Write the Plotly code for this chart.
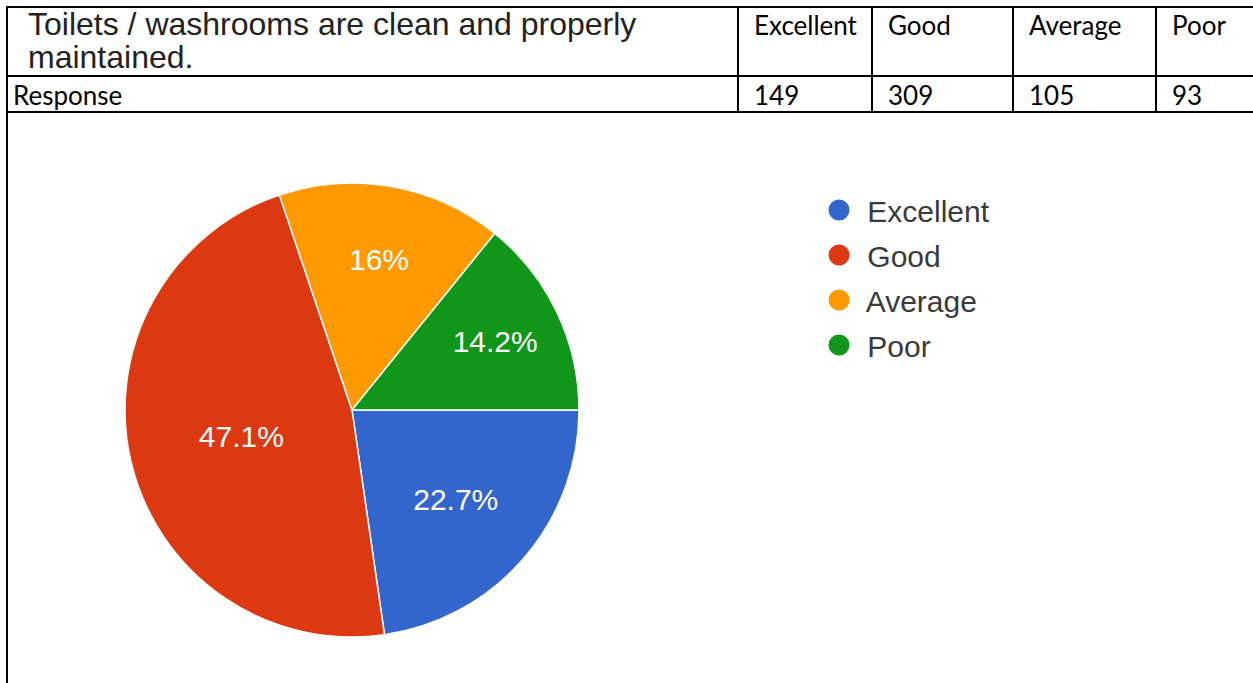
import plotly.graph_objects as go

# ---- data ----
question_lines = ["Toilets / washrooms are clean and properly", "maintained."]
row_label = "Response"
categories = ["Excellent", "Good", "Average", "Poor"]
responses = [149, 309, 105, 93]
colors = ["#3366cc", "#dc3912", "#ff9900", "#109618"]

W, H = 1253, 683


def px(x):
    return x / W


def py(y):
    return 1 - y / H


fig = go.Figure()

# pie chart
cx, cy, R = 352, 410, 227
fig.add_trace(go.Pie(
    labels=categories,
    values=responses,
    sort=False,
    direction="clockwise",
    rotation=90,
    marker=dict(colors=colors, line=dict(color="white", width=1.5)),
    textinfo="percent",
    textposition="inside",
    insidetextorientation="horizontal",
    textfont=dict(family="Liberation Sans, Arial, sans-serif", size=30, color="white"),
    showlegend=False,
    hoverinfo="label+value+percent",
    domain=dict(x=[px(cx - R), px(cx + R)], y=[py(cy + R), py(cy - R)]),
))

# legend entries (circle markers)
for i, (c, col) in enumerate(zip(categories, colors)):
    fig.add_trace(go.Scatter(
        x=[None], y=[None], mode="markers", name=" " + c,
        marker=dict(symbol="circle", size=16, color=col, line=dict(color=col, width=5)),
        legendgroup=f"g{i}", showlegend=True,
    ))

# table lines
line_style = dict(color="black", width=2)
shapes = []
row_ys = [7, 76, 112]
for y in row_ys:
    shapes.append(dict(type="line", xref="paper", yref="paper",
                       x0=px(6), x1=px(1253), y0=py(y), y1=py(y), line=line_style))
shapes.append(dict(type="line", xref="paper", yref="paper",
                   x0=px(7), x1=px(7), y0=py(6), y1=py(683), line=line_style))
col_xs = [738, 872, 1013, 1156]
for x in col_xs:
    shapes.append(dict(type="line", xref="paper", yref="paper",
                       x0=px(x), x1=px(x), y0=py(7), y1=py(112), line=line_style))

annotations = []
title_font = dict(family="Liberation Sans, Arial, sans-serif", size=32, color="#222222")
for i, (line, yc) in enumerate(zip(question_lines, [24, 57])):
    annotations.append(dict(
        text=line, xref="paper", yref="paper", x=px(26), y=py(yc),
        xanchor="left", yanchor="middle", align="left", showarrow=False,
        font=title_font,
    ))
cal_font = dict(family="Lato, Open Sans, sans-serif", size=26, color="#000000")
annotations.append(dict(
    text=row_label, xref="paper", yref="paper", x=px(11), y=py(95),
    xanchor="left", yanchor="middle", showarrow=False, font=cal_font,
))
for x, c, v in zip(col_xs, categories, responses):
    annotations.append(dict(
        text=c, xref="paper", yref="paper", x=px(x + 14), y=py(25),
        xanchor="left", yanchor="middle", showarrow=False, font=cal_font,
    ))
    annotations.append(dict(
        text=str(v), xref="paper", yref="paper", x=px(x + 14), y=py(95),
        xanchor="left", yanchor="middle", showarrow=False, font=cal_font,
    ))

fig.update_layout(
    width=W, height=H,
    margin=dict(l=0, r=0, t=0, b=0),
    paper_bgcolor="white", plot_bgcolor="white",
    xaxis=dict(visible=False, domain=[0.99, 1.0]),
    yaxis=dict(visible=False, domain=[0.0, 0.01]),
    shapes=shapes,
    annotations=annotations,
    legend=dict(
        x=px(819), y=py(184), xanchor="left", yanchor="top",
        font=dict(family="Liberation Sans, Arial, sans-serif", size=30, color="#3a3a3a"),
        tracegroupgap=3, bgcolor="rgba(0,0,0,0)",
    ),
)

fig.write_html(
    "out.html",
    config={"displayModeBar": False},
    post_script="document.body.style.margin='0';document.body.style.overflow='hidden';",
)
